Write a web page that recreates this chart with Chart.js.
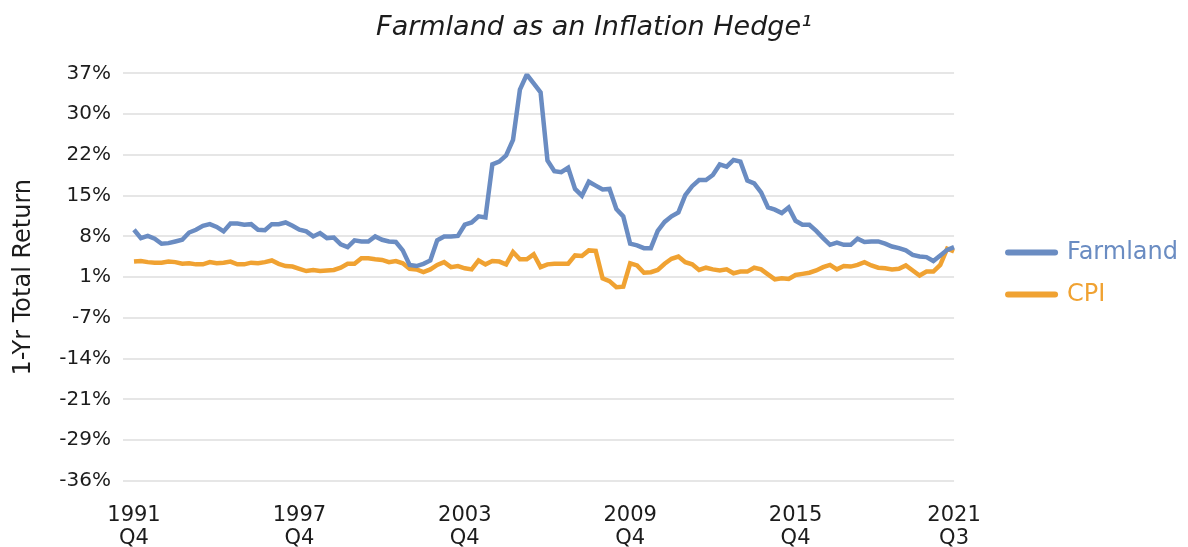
<!DOCTYPE html>
<html>
<head>
<meta charset="utf-8">
<script src="https://cdn.jsdelivr.net/npm/chart.js@4.4.1/dist/chart.umd.min.js"></script>
<style>
  html, body { margin: 0; padding: 0; background: #fff; }
  #wrap { width: 1188px; height: 547px; }
</style>
</head>
<body>
<div id="wrap"><canvas id="chart"></canvas></div>
<script>
// 1-yr total return, quarterly, 1991 Q4 .. 2021 Q3
const farmland = [
  9.0, 7.5, 7.9, 7.4, 6.5, 6.6, 6.9, 7.2, 8.5, 9.0,
  9.7, 10.0, 9.5, 8.7, 10.1, 10.1, 9.9, 10.0, 9.0, 8.9,
  10.0, 10.0, 10.3, 9.7, 9.0, 8.7, 7.8, 8.4, 7.5, 7.6,
  6.4, 5.9, 7.1, 6.9, 6.9, 7.8, 7.2, 6.9, 6.8, 5.3,
  2.7, 2.5, 2.9, 3.5, 7.1, 7.8, 7.8, 7.9, 9.9, 10.3,
  11.4, 11.2, 20.7, 21.2, 22.3, 25.1, 34.1, 36.8, 35.2, 33.6,
  21.4, 19.5, 19.3, 20.1, 16.3, 15.1, 17.6, 16.9, 16.2, 16.3,
  12.7, 11.4, 6.5, 6.2, 5.7, 5.7, 8.8, 10.4, 11.4, 12.1,
  15.2, 16.8, 17.9, 17.9, 18.8, 20.7, 20.3, 21.5, 21.2, 17.8,
  17.3, 15.7, 13.0, 12.6, 12.0, 13.0, 10.6, 9.9, 9.9, 8.8,
  7.5, 6.3, 6.7, 6.3, 6.3, 7.4, 6.8, 6.9, 6.9, 6.5,
  6.0, 5.7, 5.3, 4.5, 4.2, 4.1, 3.4, 4.4, 5.4, 5.9
];
const cpi = [
  3.3, 3.4, 3.2, 3.1, 3.1, 3.3, 3.2, 2.9, 3.0, 2.8,
  2.8, 3.2, 3.0, 3.1, 3.3, 2.8, 2.8, 3.1, 3.0, 3.2,
  3.5, 2.9, 2.5, 2.4, 2.0, 1.6, 1.8, 1.6, 1.7, 1.8,
  2.2, 2.9, 2.9, 3.9, 3.9, 3.7, 3.6, 3.2, 3.4, 3.0,
  2.0, 1.9, 1.4, 1.9, 2.7, 3.2, 2.3, 2.5, 2.1, 1.9,
  3.5, 2.8, 3.4, 3.3, 2.8, 5.0, 3.7, 3.7, 4.6, 2.3,
  2.8, 2.9, 2.9, 2.9, 4.4, 4.3, 5.3, 5.2, 0.3, -0.2,
  -1.3, -1.2, 3.0, 2.6, 1.3, 1.4, 1.8, 2.9, 3.8, 4.2,
  3.2, 2.8, 1.8, 2.2, 1.9, 1.7, 1.9, 1.2, 1.5, 1.5,
  2.2, 1.9, 1.0, 0.1, 0.3, 0.2, 0.9, 1.1, 1.3, 1.7,
  2.3, 2.7, 1.9, 2.5, 2.4, 2.7, 3.2, 2.6, 2.2, 2.1,
  1.9, 2.0, 2.6, 1.7, 0.8, 1.5, 1.5, 2.7, 5.6, 5.1
];

const xTicks = ['1991 Q4', '1997 Q4', '2003 Q4', '2009 Q4', '2015 Q4', '2021 Q3'];
const yTickValues = [-36, -28.7, -21.4, -14.1, -6.8, 0.5, 7.8, 15.1, 22.4, 29.7, 37];
const yTickLabels = ['-36%', '-29%', '-21%', '-14%', '-7%', '1%', '8%', '15%', '22%', '30%', '37%'];

// quarter labels
const quarters = [];
for (let y = 1991, q = 4; quarters.length < farmland.length; ) {
  quarters.push(y + ' Q' + q);
  q++;
  if (q > 4) { q = 1; y++; }
}

const blue = '#6a8cc2';
const orange = '#f0a232';
const ink = '#1c1c1c';
const font = 'DejaVu Sans';

const chart = document.querySelector('#chart').getContext('2d');

new Chart(chart, {
  type: 'line',
  data: {
    labels: quarters,
    datasets: [
      {
        label: 'Farmland',
        data: farmland,
        borderColor: blue,
        borderWidth: 4.5,
        pointRadius: 0,
        tension: 0
      },
      {
        label: 'CPI',
        data: cpi,
        borderColor: orange,
        borderWidth: 4.5,
        pointRadius: 0,
        tension: 0
      }
    ]
  },
  options: {
    responsive: true,
    maintainAspectRatio: false,
    animation: false,
    layout: { padding: 0 },
    plugins: {
      tooltip: { enabled: false },
      title: {
        display: true,
        text: 'Farmland as an Inflation Hedge\u00b9',
        color: ink,
        font: { family: font, size: 27, style: 'italic', weight: 'normal' },
        padding: { top: 12, bottom: 29 }
      },
      legend: {
        position: 'right',
        labels: {
          usePointStyle: true,
          pointStyleWidth: 47,
          padding: 18,
          font: { family: font, size: 24 },
          generateLabels: (c) => c.data.datasets.map((ds, i) => ({
            text: ds.label,
            fillStyle: ds.borderColor,
            strokeStyle: ds.borderColor,
            fontColor: ds.borderColor,
            lineWidth: 6,
            lineCap: 'round',
            pointStyle: 'line',
            hidden: false,
            datasetIndex: i
          }))
        }
      }
    },
    scales: {
      x: {
        afterFit: (axis) => { axis.height = 66; },
        grid: { display: false, drawTicks: false },
        border: { display: false },
        ticks: {
          autoSkip: false,
          maxRotation: 0,
          padding: 23,
          color: ink,
          font: { family: font, size: 21, lineHeight: 1.1 },
          callback: function (value, index) {
            const lab = quarters[index];
            return xTicks.includes(lab) ? lab.split(' ') : null;
          }
        }
      },
      y: {
        min: -36,
        max: 37,
        afterBuildTicks: (axis) => {
          axis.ticks = yTickValues.map(v => ({ value: v }));
        },
        afterFit: (axis) => { axis.width = 134; },
        grid: { color: '#e6e6e6', lineWidth: 2, drawTicks: true, tickLength: 11 },
        border: { display: false },
        ticks: {
          padding: 12,
          color: ink,
          font: { family: font, size: 20 },
          callback: (value, index) => yTickLabels[index]
        },
        title: {
          display: true,
          text: '1-Yr Total Return',
          color: ink,
          font: { family: font, size: 24 },
          padding: { top: 9, bottom: 0 }
        }
      },
      // empty gap between plot and legend
      gap: {
        type: 'linear',
        position: 'right',
        grid: { display: false },
        border: { display: false },
        ticks: { display: false },
        afterFit: (axis) => { axis.width = 36; }
      }
    }
  }
});
</script>
</body>
</html>
